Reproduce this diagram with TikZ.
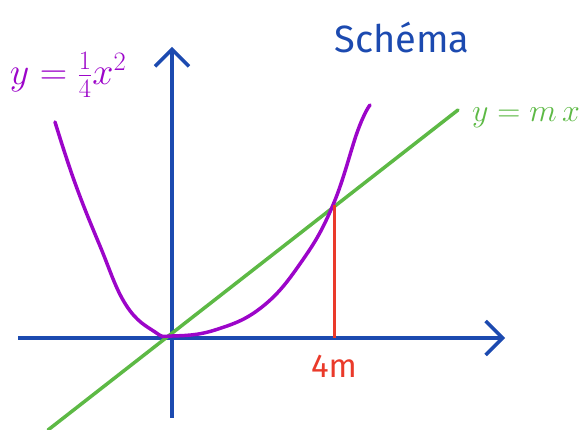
\RequirePackage{fix-cm}
\documentclass[tikz,border=0pt]{standalone}
\usepackage{fontspec}
\setsansfont{Fira Sans}
\usepackage{xcolor}
\usepackage{tikz}
\usetikzlibrary{positioning, arrows.meta}
\definecolor{axisblue}{HTML}{1C4AB0}
\definecolor{parabpurple}{HTML}{9C05C9}
\definecolor{linegreen}{HTML}{5DB945}
\definecolor{markred}{HTML}{EA3A2A}

\begin{document}
\begin{tikzpicture}[x=1pt, y=-1pt,
    axis/.style={draw=axisblue, line width=3.5pt,
                 -{Straight Barb[length=17pt, width=34pt]}},
    curve/.style={line width=3.5pt, line cap=round, line join=round}]
    \useasboundingbox (0,0) rectangle (582,430);
    \coordinate (O) at (172,337);
    \coordinate (xstart) at (18,338);
    \coordinate (xend) at (505,338);
    \coordinate (ystart) at (172,418);
    \coordinate (yend) at (172,47);
    \coordinate (glow) at (48,430);
    \coordinate (ghigh) at (458,110);
    \coordinate (P) at (334,205);
    \coordinate (F) at (334,338);

    % axes
    \draw[axis] (xstart) -- (xend);
    \draw[axis] (ystart) -- (yend);

    % the line and the parabola
    \draw[curve, linegreen] (glow) -- (ghigh);
    \draw[curve, parabpurple] plot[smooth, tension=0.7] coordinates {
      (55,122) (75,183) (100,246) (126,305) (155,332) (172,336)
      (215,330) (262,307) (302,261) (333,205) (358,130) (370,105)};
    \draw[markred, line width=3pt] (P) -- (F);

    % labels
    \node[markred, font=\sffamily\fontsize{33}{33}\selectfont,
          below=14pt of F] (xlabel) {4m};
    \node[parabpurple, font=\fontsize{38}{38}\selectfont]
          (parablabel) at (68,75) {$y=\frac{1}{4}x^2$};
    \node[linegreen, font=\fontsize{32}{32}\selectfont]
          (linelabel) at (526,118) {$y=m\,x$};
    \node[axisblue, font=\sffamily\fontsize{38}{38}\selectfont]
          (title) at (402,38) {Schéma};
  \end{tikzpicture}
\end{document}
